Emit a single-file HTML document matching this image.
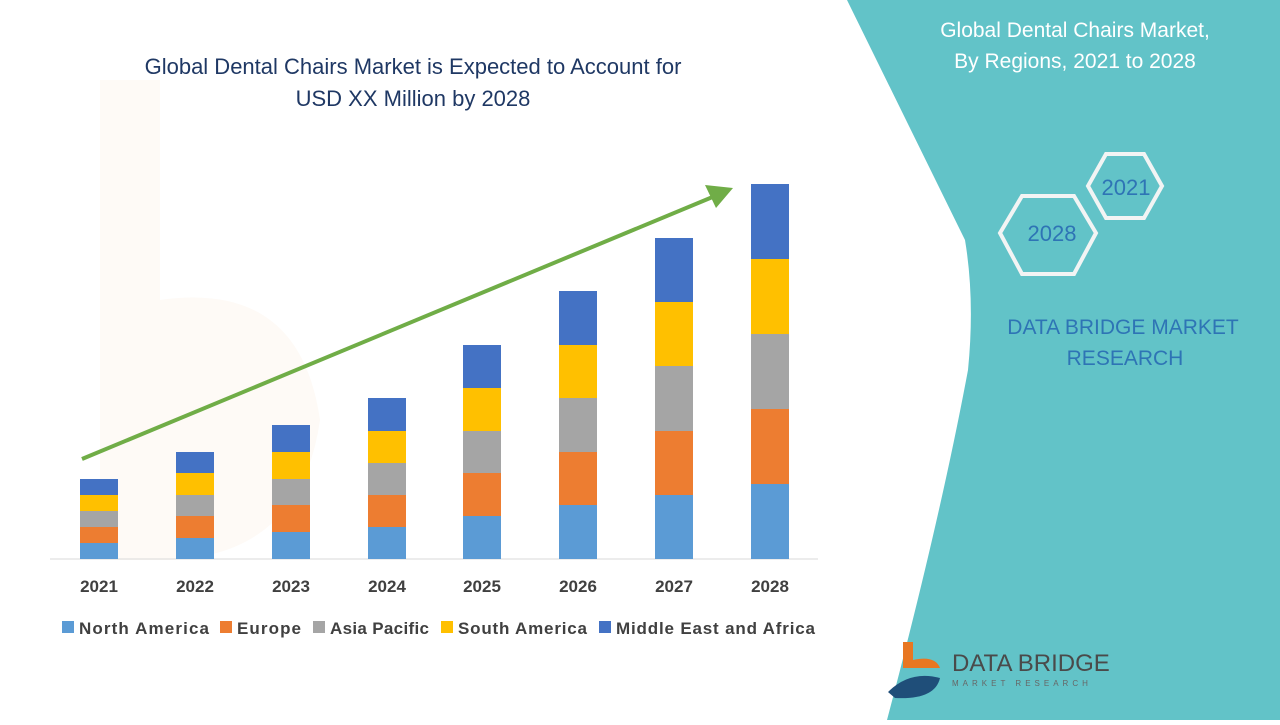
<!DOCTYPE html>
<html><head><style>
body{margin:0;width:1280px;height:720px;overflow:hidden;background:#fff;font-family:"Liberation Sans",sans-serif;}
</style></head><body>
<svg width="1280" height="720" xmlns="http://www.w3.org/2000/svg" font-family="Liberation Sans, sans-serif">
<rect width="1280" height="720" fill="#fff"/>
<g opacity="0.04">
<path d="M100 80 L160 80 L160 300 Q300 280 320 420 Q300 560 160 560 L100 560 Z" fill="#e87722"/>
</g>
<path d="M847 0 L1280 0 L1280 720 L887 720 Q940 520 968 370 Q975 300 965 240 Z" fill="#62c3c8"/>
<text x="1075" y="37" font-size="21" fill="#fff" text-anchor="middle">Global Dental Chairs Market,</text>
<text x="1075" y="68" font-size="21" fill="#fff" text-anchor="middle">By Regions,  2021 to 2028</text>
<polygon points="1088,186 1106,154 1144,154 1162,186 1144,218 1106,218" fill="none" stroke="#f2f4f4" stroke-width="4"/>
<polygon points="1000,233 1022,196 1074,196 1096,233 1074,274 1022,274" fill="none" stroke="#f2f4f4" stroke-width="4"/>
<text x="1126" y="195" font-size="22" fill="#2e74b5" text-anchor="middle">2021</text>
<text x="1052" y="241" font-size="22" fill="#2e74b5" text-anchor="middle">2028</text>
<text x="1123" y="334" font-size="21" fill="#2e74b5" text-anchor="middle">DATA BRIDGE MARKET</text>
<text x="1125" y="365" font-size="21" fill="#2e74b5" text-anchor="middle">RESEARCH</text>
<path d="M903 642 L913 642 L913 660 Q935 655 940 668 L903 668 Z" fill="#e87722"/>
<path d="M888 692 Q910 670 940 678 Q935 700 895 698 Z" fill="#1f4e79"/>
<text x="952" y="671" font-size="24" fill="#4a4a4a">DATA BRIDGE</text>
<text x="952" y="686" font-size="8" fill="#666" letter-spacing="4">MARKET RESEARCH</text>
<text x="413" y="74" font-size="22" fill="#1f3864" text-anchor="middle">Global Dental Chairs Market is Expected to Account for</text>
<text x="413" y="106" font-size="22" fill="#1f3864" text-anchor="middle">USD XX Million by 2028</text>
<line x1="50" y1="559" x2="818" y2="559" stroke="#d9d9d9"/>
<g>
<rect x="80" y="543" width="38" height="16" fill="#5b9bd5"/><rect x="80" y="527" width="38" height="16" fill="#ed7d31"/><rect x="80" y="511" width="38" height="16" fill="#a5a5a5"/><rect x="80" y="495" width="38" height="16" fill="#ffc000"/><rect x="80" y="479" width="38" height="16" fill="#4472c4"/>
<rect x="176" y="538" width="38" height="21" fill="#5b9bd5"/><rect x="176" y="516" width="38" height="22" fill="#ed7d31"/><rect x="176" y="495" width="38" height="21" fill="#a5a5a5"/><rect x="176" y="473" width="38" height="22" fill="#ffc000"/><rect x="176" y="452" width="38" height="21" fill="#4472c4"/>
<rect x="272" y="532" width="38" height="27" fill="#5b9bd5"/><rect x="272" y="505" width="38" height="27" fill="#ed7d31"/><rect x="272" y="479" width="38" height="26" fill="#a5a5a5"/><rect x="272" y="452" width="38" height="27" fill="#ffc000"/><rect x="272" y="425" width="38" height="27" fill="#4472c4"/>
<rect x="368" y="527" width="38" height="32" fill="#5b9bd5"/><rect x="368" y="495" width="38" height="32" fill="#ed7d31"/><rect x="368" y="463" width="38" height="32" fill="#a5a5a5"/><rect x="368" y="431" width="38" height="32" fill="#ffc000"/><rect x="368" y="398" width="38" height="33" fill="#4472c4"/>
<rect x="463" y="516" width="38" height="43" fill="#5b9bd5"/><rect x="463" y="473" width="38" height="43" fill="#ed7d31"/><rect x="463" y="431" width="38" height="42" fill="#a5a5a5"/><rect x="463" y="388" width="38" height="43" fill="#ffc000"/><rect x="463" y="345" width="38" height="43" fill="#4472c4"/>
<rect x="559" y="505" width="38" height="54" fill="#5b9bd5"/><rect x="559" y="452" width="38" height="53" fill="#ed7d31"/><rect x="559" y="398" width="38" height="54" fill="#a5a5a5"/><rect x="559" y="345" width="38" height="53" fill="#ffc000"/><rect x="559" y="291" width="38" height="54" fill="#4472c4"/>
<rect x="655" y="495" width="38" height="64" fill="#5b9bd5"/><rect x="655" y="431" width="38" height="64" fill="#ed7d31"/><rect x="655" y="366" width="38" height="65" fill="#a5a5a5"/><rect x="655" y="302" width="38" height="64" fill="#ffc000"/><rect x="655" y="238" width="38" height="64" fill="#4472c4"/>
<rect x="751" y="484" width="38" height="75" fill="#5b9bd5"/><rect x="751" y="409" width="38" height="75" fill="#ed7d31"/><rect x="751" y="334" width="38" height="75" fill="#a5a5a5"/><rect x="751" y="259" width="38" height="75" fill="#ffc000"/><rect x="751" y="184" width="38" height="75" fill="#4472c4"/>
</g>
<line x1="82" y1="459" x2="715" y2="196" stroke="#70ad47" stroke-width="4"/>
<polygon points="733,188 705,185 716,208" fill="#70ad47"/>
<g font-size="17" font-weight="bold" fill="#404040" text-anchor="middle">
<text x="99" y="592">2021</text><text x="195" y="592">2022</text><text x="291" y="592">2023</text><text x="387" y="592">2024</text><text x="482" y="592">2025</text><text x="578" y="592">2026</text><text x="674" y="592">2027</text><text x="770" y="592">2028</text>
</g>
<g font-size="17" font-weight="bold" fill="#404040">
<rect x="62" y="621" width="12" height="12" fill="#5b9bd5"/><text x="79" y="634" textLength="130">North America</text>
<rect x="220" y="621" width="12" height="12" fill="#ed7d31"/><text x="237" y="634" textLength="64">Europe</text>
<rect x="313" y="621" width="12" height="12" fill="#a5a5a5"/><text x="330" y="634" textLength="99">Asia Pacific</text>
<rect x="441" y="621" width="12" height="12" fill="#ffc000"/><text x="458" y="634" textLength="129">South America</text>
<rect x="599" y="621" width="12" height="12" fill="#4472c4"/><text x="616" y="634" textLength="199">Middle East and Africa</text>
</g>
</svg>
</body></html>
